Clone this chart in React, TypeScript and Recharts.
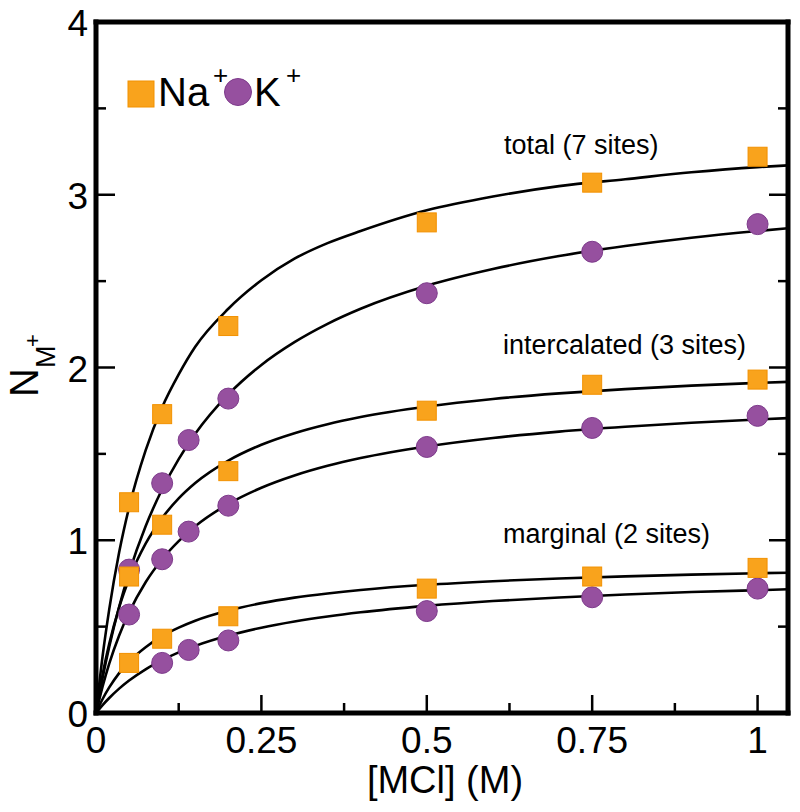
import { ComposedChart, Line, Scatter, XAxis, YAxis } from "recharts";

// fitted curves at these concentrations
const curveX = [0, 0.01, 0.02, 0.035, 0.05, 0.075, 0.1, 0.125, 0.15, 0.2, 0.25, 0.3, 0.35, 0.4, 0.5, 0.6, 0.7, 0.8, 0.9, 1.0, 1.046];
const naTotalFit = [0, 0.33, 0.6, 0.93, 1.19, 1.52, 1.77, 1.96, 2.12, 2.34, 2.505, 2.63, 2.72, 2.79, 2.91, 2.99, 3.05, 3.09, 3.13, 3.16, 3.17];
const kTotalFit = [0, 0.204, 0.383, 0.615, 0.812, 1.081, 1.295, 1.47, 1.616, 1.844, 2.015, 2.147, 2.253, 2.34, 2.473, 2.57, 2.645, 2.703, 2.751, 2.79, 2.806];
const naInterFit = [0, 0.222, 0.4, 0.612, 0.776, 0.98, 1.129, 1.242, 1.331, 1.461, 1.553, 1.62, 1.672, 1.713, 1.774, 1.818, 1.85, 1.875, 1.895, 1.911, 1.917];
const kInterFit = [0, 0.154, 0.286, 0.449, 0.582, 0.757, 0.89, 0.995, 1.081, 1.21, 1.304, 1.375, 1.431, 1.476, 1.543, 1.592, 1.629, 1.657, 1.68, 1.699, 1.707];
const naMargFit = [0, 0.081, 0.148, 0.231, 0.297, 0.381, 0.445, 0.494, 0.534, 0.593, 0.636, 0.668, 0.692, 0.712, 0.742, 0.763, 0.779, 0.791, 0.801, 0.809, 0.812];
const kMargFit = [0, 0.046, 0.087, 0.141, 0.188, 0.253, 0.306, 0.351, 0.388, 0.448, 0.494, 0.53, 0.559, 0.583, 0.62, 0.648, 0.669, 0.686, 0.7, 0.711, 0.716];

// simulation points
const naX = [0.05, 0.1, 0.2, 0.5, 0.75, 1.0];
const naTotal = [1.22, 1.73, 2.24, 2.84, 3.07, 3.22];
const naInter = [0.79, 1.09, 1.4, 1.75, 1.9, 1.93];
const naMarg = [0.29, 0.43, 0.56, 0.72, 0.79, 0.84];

const kX = [0.05, 0.1, 0.14, 0.2, 0.5, 0.75, 1.0];
const kTotal = [0.83, 1.33, 1.58, 1.82, 2.43, 2.67, 2.83];
const kInter = [0.57, 0.89, 1.05, 1.2, 1.54, 1.65, 1.72];
const kMargX = [0.1, 0.14, 0.2, 0.5, 0.75, 1.0];
const kMarg = [0.29, 0.365, 0.42, 0.59, 0.67, 0.72];

const xTicks = [0, 0.125, 0.25, 0.375, 0.5, 0.625, 0.75, 0.875, 1];
const yTicks = [0, 0.5, 1, 1.5, 2, 2.5, 3, 3.5, 4];

const FONT = "'Liberation Sans', Arial, Helvetica, sans-serif";
const NA_FILL = "#F9A31C";
const NA_EDGE = "#F29100";
const K_FILL = "#96509F";
const K_EDGE = "#7D3A8B";

const toPts = (xs: number[], ys: number[]) => xs.map((x, i) => ({ x, y: ys[i] }));

const fits = [naTotalFit, kTotalFit, naInterFit, kInterFit, naMargFit, kMargFit];
const naPts = [...toPts(naX, naTotal), ...toPts(naX, naInter), ...toPts(naX, naMarg)];
const kPts = [...toPts(kX, kTotal), ...toPts(kX, kInter), ...toPts(kMargX, kMarg)];

const isMajorX = (v: number) => Math.abs(v * 4 - Math.round(v * 4)) < 1e-6;
const isMajorY = (v: number) => Math.abs(v - Math.round(v)) < 1e-6;

const BottomTick = (props: any) => {
  const { x, y, payload } = props;
  const major = isMajorX(payload.value);
  return (
    <g>
      <line x1={x} x2={x} y1={y} y2={y - (major ? 18 : 10)} stroke="#000" strokeWidth={2.5} />
      {major && (
        <text x={x} y={y + 40} textAnchor="middle" fontSize={37} fontFamily={FONT} fill="#000">
          {String(payload.value)}
        </text>
      )}
    </g>
  );
};

const TopTick = (props: any) => {
  const { x, y, payload } = props;
  const major = isMajorX(payload.value);
  return <line x1={x} x2={x} y1={y} y2={y + (major ? 18 : 10)} stroke="#000" strokeWidth={2.5} />;
};

const LeftTick = (props: any) => {
  const { x, y, payload } = props;
  const major = isMajorY(payload.value);
  return (
    <g>
      <line x1={x} x2={x + (major ? 19 : 10)} y1={y} y2={y} stroke="#000" strokeWidth={2.5} />
      {major && (
        <text x={x - 8} y={y + 14} textAnchor="end" fontSize={37} fontFamily={FONT} fill="#000">
          {String(payload.value)}
        </text>
      )}
    </g>
  );
};

const RightTick = (props: any) => {
  const { x, y, payload } = props;
  const major = isMajorY(payload.value);
  return <line x1={x} x2={x - (major ? 19 : 10)} y1={y} y2={y} stroke="#000" strokeWidth={2.5} />;
};

const Square = (props: any) => {
  const { cx, cy } = props;
  return <rect x={cx - 9.5} y={cy - 9.5} width={19} height={19} fill={NA_FILL} stroke={NA_EDGE} strokeWidth={1} />;
};

const Dot = (props: any) => {
  const { cx, cy } = props;
  return <circle cx={cx} cy={cy} r={10.5} fill={K_FILL} stroke={K_EDGE} strokeWidth={1} />;
};

const frame = { stroke: "#000", strokeWidth: 5, strokeLinecap: "square" as const };

export default function App() {
  return (
    <div style={{ position: "absolute", left: 0, top: 0, width: 800, height: 812, background: "#fff" }}>
      <ComposedChart width={800} height={812} margin={{ top: 21, right: 11, bottom: 98, left: 95 }}>
        <XAxis
          xAxisId="b"
          dataKey="x"
          type="number"
          domain={[0, 1.046]}
          allowDataOverflow
          ticks={xTicks}
          interval={0}
          height={1}
          tickSize={0}
          tickMargin={0}
          tickLine={false}
          axisLine={frame}
          tick={BottomTick}
        />
        <XAxis
          xAxisId="t"
          orientation="top"
          type="number"
          domain={[0, 1.046]}
          allowDataOverflow
          ticks={xTicks}
          interval={0}
          height={1}
          tickSize={0}
          tickMargin={0}
          tickLine={false}
          axisLine={frame}
          tick={TopTick}
        />
        <YAxis
          yAxisId="l"
          dataKey="y"
          type="number"
          domain={[0, 4]}
          allowDataOverflow
          ticks={yTicks}
          interval={0}
          width={1}
          tickSize={0}
          tickMargin={0}
          tickLine={false}
          axisLine={frame}
          tick={LeftTick}
        />
        <YAxis
          yAxisId="r"
          orientation="right"
          type="number"
          domain={[0, 4]}
          allowDataOverflow
          ticks={yTicks}
          interval={0}
          width={1}
          tickSize={0}
          tickMargin={0}
          tickLine={false}
          axisLine={frame}
          tick={RightTick}
        />
        {fits.map((ys, i) => (
          <Line
            key={i}
            xAxisId="b"
            yAxisId="l"
            data={toPts(curveX, ys)}
            dataKey="y"
            type="monotone"
            stroke="#000"
            strokeWidth={2.6}
            dot={false}
            activeDot={false}
            isAnimationActive={false}
          />
        ))}
        <Scatter xAxisId="b" yAxisId="l" data={kPts} shape={Dot} isAnimationActive={false} />
        <Scatter xAxisId="b" yAxisId="l" data={naPts} shape={Square} isAnimationActive={false} />
      </ComposedChart>

      <svg
        width={800}
        height={812}
        style={{ position: "absolute", left: 0, top: 0, pointerEvents: "none" }}
        fontFamily={FONT}
      >
        {/* y axis title: N_M^+ */}
        <g transform="translate(38, 397) rotate(-90)">
          <text x={0} y={0} fontSize={40} fill="#000">N</text>
          <text x={29} y={17} fontSize={27} fill="#000">M</text>
          <text x={50} y={2} fontSize={22} fill="#000">+</text>
        </g>
        <text x={445} y={793} textAnchor="middle" fontSize={38} fill="#000">[MCl] (M)</text>

        {/* legend */}
        <rect x={128} y={81} width={26} height={26} fill={NA_FILL} stroke={NA_EDGE} strokeWidth={1} />
        <text x={158} y={106} fontSize={40} fill="#000">Na</text>
        <text x={213} y={84} fontSize={26} fill="#000">+</text>
        <circle cx={238} cy={92} r={13.5} fill={K_FILL} stroke={K_EDGE} strokeWidth={1} />
        <text x={254} y={106} fontSize={40} fill="#000">K</text>
        <text x={286} y={84} fontSize={26} fill="#000">+</text>

        {/* group annotations */}
        <text x={504} y={154} fontSize={27} fill="#000">total (7 sites)</text>
        <text x={503} y={354} fontSize={27} fill="#000">intercalated (3 sites)</text>
        <text x={503} y={543} fontSize={27} fill="#000">marginal (2 sites)</text>
      </svg>
    </div>
  );
}
